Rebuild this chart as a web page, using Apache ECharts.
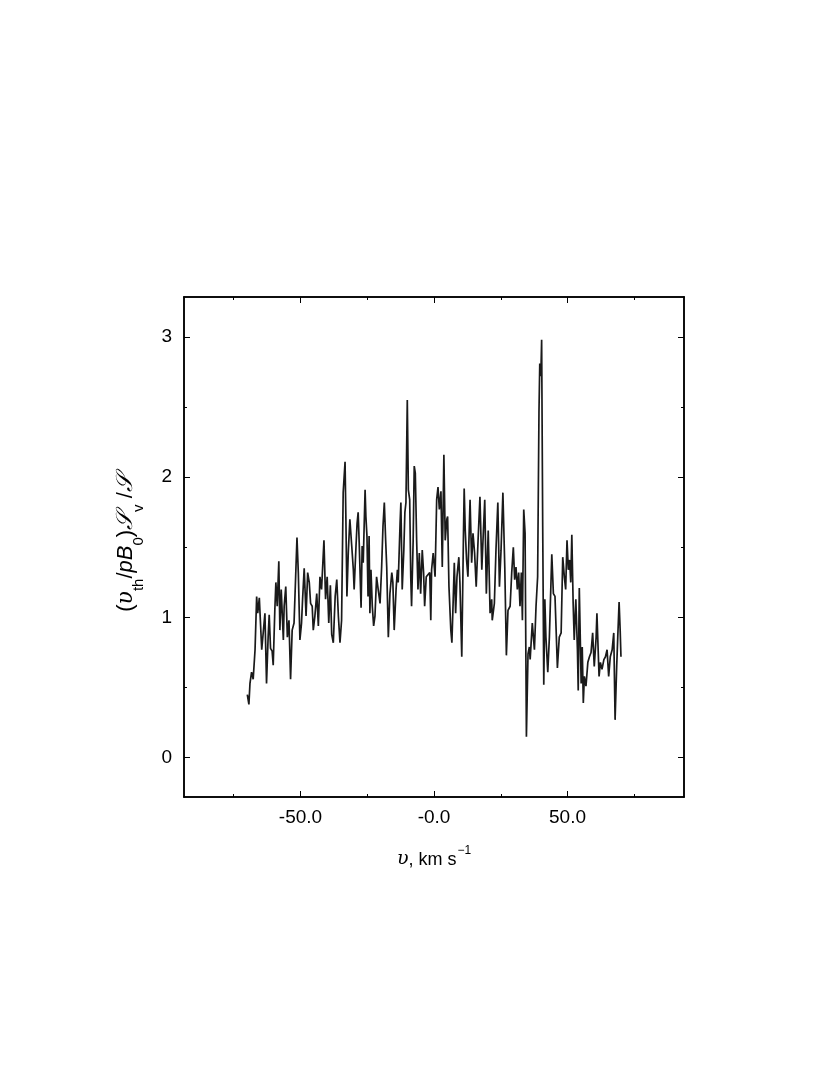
<!DOCTYPE html>
<html>
<head>
<meta charset="utf-8">
<script src="https://cdn.jsdelivr.net/npm/echarts@6/dist/echarts.min.js"></script>
<style>html,body{margin:0;padding:0;background:#fff;}#c{width:830px;height:1080px;}</style>
</head>
<body>
<div id="c"></div>
<script>
// velocity (km/s)
const velocity = [-69.9,-69.3,-68.9,-68.3,-67.7,-67.0,-66.4,-66.0,-65.4,-64.5,-63.9,-63.3,-62.7,-62.1,-61.7,-61.2,-60.6,-60.2,-59.6,-59.2,-58.7,-58.1,-57.7,-57.2,-56.4,-56.1,-55.5,-54.9,-54.3,-53.7,-53.1,-52.4,-51.8,-51.3,-50.8,-50.2,-49.6,-49.2,-48.6,-47.9,-47.3,-46.7,-46.2,-45.6,-45.2,-44.6,-43.9,-43.3,-42.7,-42.1,-41.2,-40.6,-40.0,-39.4,-38.8,-38.3,-37.7,-37.0,-36.4,-35.8,-35.2,-34.6,-34.0,-33.3,-33.0,-32.6,-32.1,-31.5,-30.8,-30.2,-29.9,-29.2,-28.8,-28.4,-28.0,-27.3,-26.9,-26.5,-25.8,-25.5,-25.1,-24.7,-24.3,-24.0,-23.6,-23.1,-22.6,-22.1,-21.5,-20.9,-20.2,-19.6,-19.1,-18.6,-18.1,-17.7,-17.1,-16.5,-15.8,-15.4,-14.9,-14.2,-13.7,-13.4,-12.7,-12.4,-11.9,-11.3,-10.9,-10.5,-10.0,-9.6,-9.1,-8.7,-8.4,-7.8,-7.4,-7.0,-6.5,-6.0,-5.5,-5.0,-4.4,-3.9,-3.5,-2.9,-2.2,-1.6,-1.2,-0.9,-0.3,0.4,1.0,1.5,2.0,2.6,3.1,3.7,4.2,4.8,5.1,5.6,6.3,6.7,7.2,7.6,8.1,8.6,9.3,9.7,10.4,11.0,11.3,11.7,12.2,12.7,13.5,14.1,14.6,15.2,15.8,16.5,17.2,17.9,18.5,19.0,19.6,20.3,21.0,21.6,21.8,22.6,23.2,23.9,24.5,25.1,25.8,26.5,27.1,27.7,28.5,29.1,29.7,30.2,30.7,31.2,31.7,32.2,32.7,33.1,33.6,34.1,34.6,35.2,35.7,36.0,36.8,37.6,38.2,38.8,39.3,39.6,40.0,40.3,40.7,41.1,41.5,41.9,42.6,43.2,44.1,44.7,45.3,46.2,46.9,47.6,48.2,48.8,49.3,49.8,50.3,50.8,51.2,51.6,52.1,52.5,53.1,53.7,54.0,54.4,55.1,55.5,55.9,56.3,56.9,57.6,58.2,58.8,59.4,60.0,60.7,61.0,61.8,62.3,62.9,63.6,64.2,64.8,65.4,66.0,66.7,67.3,67.8,68.4,68.8,69.3,69.7,70.0];
// normalized value
const ratio = [0.45,0.38,0.53,0.61,0.56,0.77,1.15,1.03,1.14,0.77,0.90,1.03,0.53,0.86,1.02,0.78,0.76,0.66,1.05,1.25,1.08,1.40,0.91,1.20,0.84,1.08,1.22,0.86,0.98,0.56,0.91,0.96,1.29,1.57,1.32,0.84,0.96,1.13,1.35,1.01,1.32,1.25,1.10,1.08,0.91,1.01,1.17,0.94,1.29,1.20,1.55,1.13,1.29,0.96,1.23,0.88,0.82,1.15,1.27,1.01,0.82,0.98,1.89,2.11,1.72,1.15,1.46,1.70,1.51,1.34,1.20,1.51,1.67,1.75,1.53,1.07,1.51,1.39,1.91,1.72,1.58,1.15,1.58,1.03,1.34,1.08,0.94,1.01,1.29,1.20,1.10,1.36,1.65,1.82,1.55,1.36,0.86,1.17,1.32,1.25,0.91,1.20,1.34,1.25,1.67,1.82,1.20,1.48,1.75,1.82,2.55,1.91,1.84,1.29,1.08,1.55,2.08,2.03,1.55,1.20,1.46,1.17,1.48,1.32,1.08,1.29,1.29,1.32,0.98,1.34,1.46,1.29,1.84,1.93,1.77,1.90,1.36,2.16,1.55,1.70,1.72,1.22,0.91,0.82,1.13,1.39,1.03,1.29,1.43,1.25,0.72,1.55,1.92,1.62,1.41,1.29,1.84,1.39,1.60,1.46,1.22,1.55,1.86,1.34,1.62,1.84,1.17,1.62,1.03,1.13,0.98,1.10,1.48,1.82,1.22,1.48,1.89,1.36,0.73,1.05,1.08,1.32,1.50,1.27,1.36,1.20,1.32,1.08,1.32,0.98,1.77,1.60,0.15,0.74,0.79,0.70,0.96,0.77,1.08,1.29,2.46,2.81,2.72,2.98,1.65,0.52,1.13,0.86,0.61,0.86,1.45,1.17,1.15,0.64,0.86,0.89,1.43,1.29,1.20,1.55,1.34,1.41,1.25,1.59,1.10,0.84,1.13,0.77,0.48,1.21,0.53,0.79,0.39,0.58,0.51,0.68,0.72,0.75,0.89,0.65,0.86,1.03,0.58,0.68,0.63,0.70,0.72,0.77,0.58,0.72,0.77,0.89,0.27,0.65,0.86,1.11,0.91,0.72];
const xMajorTicks = [-50, 0, 50];
const xMinorTicks = [-75, -25, 25, 75];
const yMajorTicks = [0, 1, 2, 3];
const yMinorTicks = [0.5, 1.5, 2.5];
const xLabels = ['-50.0', '-0.0', '50.0'];

const chart = echarts.init(document.getElementById('c'), null, {renderer: 'canvas'});
const font = 'Liberation Sans';
const XMIN = -93.6, XMAX = 93.6, YMIN = -0.28, YMAX = 3.285;
const line = {show: true, onZero: false, lineStyle: {color: '#000', width: 1.5}};

function xAx(pos, ticks, len, labels) {
  return {
    type: 'value', position: pos, min: XMIN, max: XMAX,
    axisLine: line, splitLine: {show: false},
    axisTick: {show: true, inside: true, length: len, customValues: ticks, lineStyle: {color: '#000', width: 1}},
    axisLabel: labels ? {show: true, customValues: xMajorTicks, fontFamily: font, fontSize: 19, color: '#000', margin: 11,
      formatter: v => xLabels[xMajorTicks.indexOf(Math.round(v))]} : {show: false}
  };
}
function yAx(pos, ticks, len, labels) {
  return {
    type: 'value', position: pos, min: YMIN, max: YMAX,
    axisLine: line, splitLine: {show: false},
    axisTick: {show: true, inside: true, length: len, customValues: ticks, lineStyle: {color: '#000', width: 1}},
    axisLabel: labels ? {show: true, customValues: yMajorTicks, fontFamily: font, fontSize: 19, color: '#000', margin: 12,
      formatter: v => String(Math.round(v))} : {show: false}
  };
}

const xAxes = [xAx('bottom', xMajorTicks, 6, true), xAx('bottom', xMinorTicks, 3, false), xAx('top', xMajorTicks, 6, false), xAx('top', xMinorTicks, 3, false)];
xAxes[0].name = '{i|υ}{p|, km s}{sup|−1}';
xAxes[0].nameLocation = 'middle';
xAxes[0].nameGap = 46;
xAxes[0].nameTextStyle = {
  rich: {
    i: {fontFamily: 'DejaVu Serif', fontStyle: 'italic', fontSize: 19, lineHeight: 26, verticalAlign: 'bottom', color: '#000'},
    p: {fontFamily: font, fontSize: 18, lineHeight: 26, verticalAlign: 'bottom', color: '#000'},
    sup: {fontFamily: font, fontSize: 12, lineHeight: 26, verticalAlign: 'top', padding: [2, 0, 0, 1], color: '#000'}
  }
};
const yAxes = [yAx('left', yMajorTicks, 6, true), yAx('left', yMinorTicks, 3, false), yAx('right', yMajorTicks, 6, false), yAx('right', yMinorTicks, 3, false)];
yAxes[0].name = '{p|(}{i|υ}{s|th}{p|/}{ib|pB}{s|0}{p|)}{sc|𝒮}{s|v}{p| /}{sc|𝒮}';
yAxes[0].nameLocation = 'middle';
yAxes[0].nameGap = 38;
yAxes[0].nameTextStyle = {
  padding: [0, 0, 0, 8],
  rich: {
    p: {fontFamily: font, fontSize: 22, lineHeight: 31, verticalAlign: 'top', color: '#000'},
    i: {fontFamily: 'DejaVu Serif', fontStyle: 'italic', fontSize: 22, lineHeight: 31, verticalAlign: 'top', color: '#000'},
    ib: {fontFamily: font, fontStyle: 'italic', fontSize: 22, lineHeight: 31, verticalAlign: 'top', color: '#000'},
    sc: {fontFamily: 'DejaVu Serif', fontStyle: 'italic', fontSize: 23, lineHeight: 31, verticalAlign: 'top', color: '#000'},
    s: {fontFamily: font, fontSize: 15, lineHeight: 31, verticalAlign: 'bottom', color: '#000'}
  }
};

const data = velocity.map((v, i) => [v, ratio[i]]);

chart.setOption({
  animation: false,
  backgroundColor: '#fff',
  grid: {left: 184, right: 146, top: 297, bottom: 283, containLabel: false},
  xAxis: xAxes,
  yAxis: yAxes,
  series: [{
    type: 'line', xAxisIndex: 0, yAxisIndex: 0, data: data,
    showSymbol: false, symbol: 'none',
    lineStyle: {color: '#1a1a1a', width: 1.7}
  }]
});
</script>
</body>
</html>
